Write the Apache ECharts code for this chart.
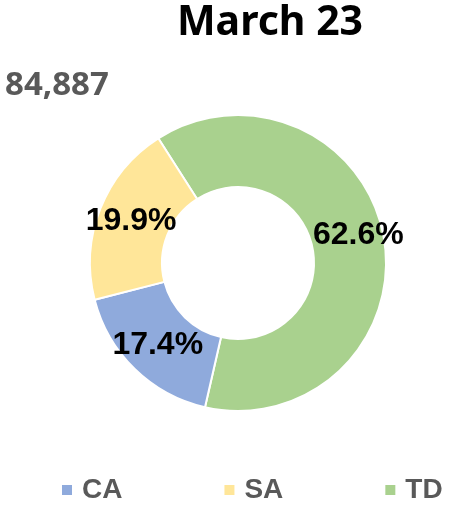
<!DOCTYPE html>
<html>
<head>
<meta charset="utf-8">
<script src="https://cdn.jsdelivr.net/npm/echarts@6/dist/echarts.min.js"></script>
<style>
  html, body { margin: 0; padding: 0; background: #fff; }
  #main { width: 449px; height: 507px; }
</style>
</head>
<body>
<div id="main"></div>
<script>
// slices listed clockwise starting from the top-left edge
const names = ["TD", "CA", "SA"];
const values = [53170, 14792, 16925];
const colors = ["#A9D18E", "#8FAADC", "#FFE699"];
const legendOrder = ["CA", "SA", "TD"];
const titleText = "March 23";

const total = values.reduce((a, b) => a + b, 0);
const chart = echarts.init(document.getElementById("main"));

// the big slice's label sits a bit further out and up in the original
const labelNudge = { TD: [7, -8] };

const pieData = names.map((n, i) => ({
  name: n,
  value: values[i],
  itemStyle: { color: colors[i] },
  label: labelNudge[n] ? { offset: labelNudge[n] } : undefined
}));

chart.setOption({
  animation: false,
  graphic: [
    {
      type: "text",
      x: 270,
      y: 23,
      style: {
        text: titleText,
        align: "center",
        verticalAlign: "middle",
        font: "bold 41px 'Noto Sans'",
        fill: "#000"
      }
    },
    {
      type: "text",
      x: 5,
      y: 86,
      style: {
        text: total.toLocaleString("en-US"),
        align: "left",
        verticalAlign: "middle",
        font: "bold 33px 'Noto Sans'",
        fill: "#595959"
      }
    }
  ],
  legend: {
    data: legendOrder,
    left: 60,
    top: 476,
    width: 389,
    padding: 0,
    itemGap: 100,
    itemWidth: 12,
    itemHeight: 12,
    icon: "rect",
    textStyle: {
      fontFamily: "Liberation Sans",
      fontWeight: "bold",
      fontSize: 28,
      color: "#595959",
      padding: [0, 0, 0, 4]
    }
  },
  series: [
    {
      type: "pie",
      center: [238, 263],
      radius: [76, 148],
      startAngle: 122.6,
      clockwise: true,
      avoidLabelOverlap: false,
      itemStyle: { borderColor: "#fff", borderWidth: 2 },
      label: {
        show: true,
        position: "inside",
        formatter: p => (p.value / total * 100).toFixed(1) + "%",
        fontFamily: "Liberation Sans",
        fontWeight: "bold",
        fontSize: 32,
        color: "#000"
      },
      labelLine: { show: false },
      emphasis: { disabled: true },
      data: pieData
    }
  ]
});
</script>
</body>
</html>
